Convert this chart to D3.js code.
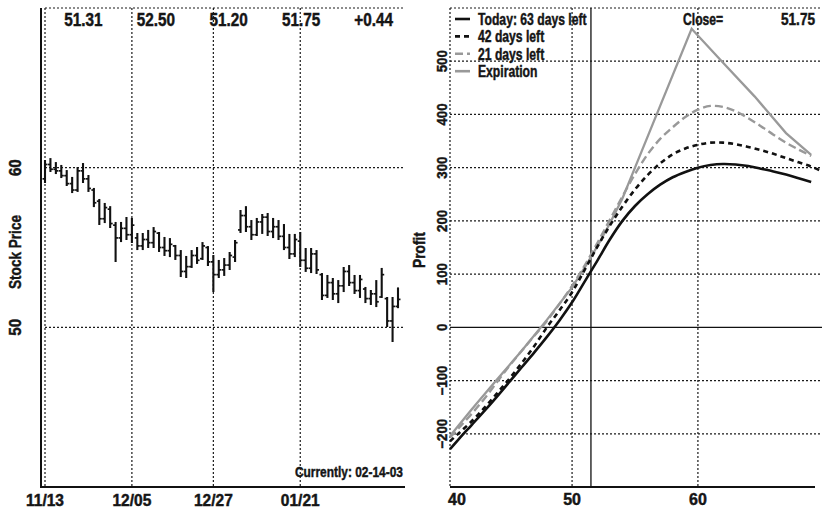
<!DOCTYPE html>
<html><head><meta charset="utf-8">
<script src="https://cdn.jsdelivr.net/npm/d3@7"></script>
<style>
html,body{margin:0;padding:0;background:#fff;}
svg{display:block;}
text{font-family:"Liberation Sans",Arial,Helvetica,sans-serif;font-weight:bold;fill:#151515;stroke:#151515;stroke-width:0.45px;}
</style></head><body>
<svg id="chart" width="823" height="510"></svg>
<script>
// ---------- Left panel data (daily bars, trading-day index) ----------
const dateTicks = ["11/13","12/05","12/27","01/21"];
const dateTickIndex = [0,16,31,47];
const highs = [60.48,60.60,60.35,60.17,59.85,59.42,60.04,60.29,59.54,58.73,58.04,57.79,57.59,56.60,56.60,56.91,56.85,55.91,55.91,56.10,56.28,55.97,55.66,55.59,55.16,54.84,54.47,54.84,55.03,55.34,55.09,54.53,54.22,54.34,54.72,55.47,57.35,57.59,56.72,56.85,57.10,57.16,56.85,56.72,56.47,55.85,55.85,55.97,54.97,54.97,54.84,53.40,53.28,53.09,52.96,53.78,53.90,53.28,53.28,52.53,52.34,52.96,53.72,51.90,51.90,52.50];
const lows  = [59.04,59.73,59.60,59.35,58.85,58.41,58.48,59.04,58.48,57.53,56.41,56.53,56.22,54.09,55.34,55.47,55.28,54.84,54.84,54.97,54.97,54.72,54.47,54.40,54.22,53.15,53.09,53.72,53.97,54.22,53.84,52.21,53.09,53.22,53.59,54.09,55.91,55.97,55.47,55.72,55.85,55.72,55.59,55.47,54.84,54.28,54.40,53.78,53.47,53.40,53.34,51.71,51.84,51.71,51.52,52.21,52.59,52.09,51.84,51.52,51.40,51.27,51.84,50.02,49.08,51.20];
const opens = [59.3,60.2,59.9,59.8,59.5,59.0,58.6,59.8,59.3,58.6,57.9,56.8,57.4,56.4,55.6,56.2,55.8,55.6,55.1,55.5,55.3,55.9,55.0,54.8,55.1,54.5,53.5,53.8,54.5,54.3,55.0,54.1,53.3,53.6,53.9,54.4,56.1,57.0,56.3,55.8,56.6,56.9,56.0,56.3,55.7,55.0,54.6,55.4,54.2,53.7,54.6,53.3,52.0,52.8,52.1,52.6,53.5,52.8,52.3,52.4,51.8,52.1,51.9,51.8,50.4,51.31];
const closes = [60.2,59.9,59.8,59.5,59.0,58.6,59.8,59.3,58.7,57.8,56.8,57.5,56.5,55.6,56.2,55.8,56.4,55.1,55.5,55.3,56.0,55.0,54.8,55.2,54.5,53.5,53.8,54.5,54.2,55.1,54.1,53.3,53.6,53.9,54.5,55.3,57.0,56.3,55.8,56.6,56.9,56.0,56.3,55.7,55.0,54.6,55.5,54.2,53.7,54.6,53.6,52.0,52.8,52.1,52.6,53.5,52.8,52.3,53.0,51.8,52.1,51.6,53.3,50.4,51.31,51.75];
const quoteLabels = ["51.31","52.50","51.20","51.75","+0.44"];
const priceTicks = [50,60];
const priceGrid = [50,60,70];
const currentLabel = "Currently: 02-14-03";

// ---------- Right panel data (profit vs underlying price) ----------
const underlying = [40.3,41,42,43,44,45,46,47,48,49,50,51,52,53,54,55,56,57,58,59,60,61,62,63,64,65,66,67,68,69,69.8];
const today  = [-229,-210,-184,-158,-131,-103,-75,-47,-18,13,47,86,125,165,200,228,250,268,282,292,300,305,307,306,303,298,293,287,280,273,null];
const days42 = [-214,-199,-177,-152,-125,-97,-67,-35,0,32,66,108,151,191,227,259,286,308,325,336,343,347,347,344,339,333,326,318,310,302,294];
const days21 = [-207,-189,-163,-135,-104,-73,-44,-16,12,44,78,116,158,202,246,288,325,354,376,395,409,416,414,406,393,378,362,347,334,322,null];
const expPrices = [40.3,42,44,46,48,50,51,52,53,54,55,57,59.5,62,64.5,67,69];
const expProfit = [-204,-155,-99,-44,14,75,112,152,195,242,300,416,561,497,434,365,324];
const profitTicks = [-200,-100,0,100,200,300,400,500];
const strikeTicks = [40,50,60];
const markerPrice = 51.5;
const legendNames = ["Today: 63 days left","42 days left","21 days left","Expiration"];
const closeLabel = "Close=";
const closeValue = "51.75";

const svg = d3.select("#chart");
const TOP = 8, BOT = 487;
const dotted = {stroke:"#1a1a1a","stroke-width":1.2,"stroke-dasharray":"2,2"};
function line(g,x1,y1,x2,y2,st){const l=g.append("line").attr("x1",x1).attr("y1",y1).attr("x2",x2).attr("y2",y2);for(const k in st)l.attr(k,st[k]);return l;}
// condensed bold text: horizontal squeeze sx along the reading direction
function txt(g,x,y,str,size,sx,anchor,rot){
  return g.append("text")
    .attr("transform",`translate(${x},${y})`+(rot?` rotate(${rot})`:"")+` scale(${sx},1)`)
    .attr("text-anchor",anchor||"start").style("font-size",size+"px").text(str);
}

// ================= LEFT PANEL =================
const L = svg.append("g");
const xL = d3.scaleLinear().domain([0, highs.length-1]).range([45, 398]);
const yL = d3.scaleLinear().domain([40,70]).range([BOT, TOP]);
const LR = 405, LL = 41;

priceGrid.forEach(v => line(L, xL(0), yL(v), LR, yL(v), dotted));
dateTickIndex.forEach(i => line(L, xL(i), TOP, xL(i), BOT, dotted));
line(L, LL, TOP, LL, BOT+1, {stroke:"#111","stroke-width":2});
line(L, LL, BOT, LR, BOT, {stroke:"#111","stroke-width":2});

const bars = L.append("g").attr("stroke","#111").attr("stroke-width",2.1);
highs.forEach((h,i) => {
  const x = xL(i);
  line(bars, x, yL(h), x, yL(lows[i]), {});
  line(bars, x-2.5, yL(opens[i]), x, yL(opens[i]), {"stroke-width":1.7});
  line(bars, x, yL(closes[i]), x+2.5, yL(closes[i]), {"stroke-width":1.7});
});

dateTicks.forEach((d,i) => txt(L, xL(dateTickIndex[i]), 506, d, 16, 0.97, "middle"));
priceTicks.forEach(v => txt(L, 21, yL(v), String(v), 16, 0.95, "middle", -90));
txt(L, 21, 252, "Stock Price", 17, 0.8, "middle", -90);
const qx = d3.scaleBand().domain(quoteLabels).range([47,410]);
quoteLabels.forEach(d => txt(L, qx(d)+qx.bandwidth()/2, 26, d, 18, 0.85, "middle"));
txt(L, 403, 477, currentLabel, 15.5, 0.77, "end");

// ================= RIGHT PANEL =================
const R = svg.append("g");
const xR = d3.scaleLinear().domain([40.3, 69.86]).range([450, 822]);
const yR = d3.scaleLinear().domain([-300, 600]).range([BOT, TOP]);
const RL = 450, RR = 822;

line(R, RL, TOP, RR, TOP, dotted);
profitTicks.filter(v=>v!==0).forEach(v => line(R, RL, yR(v), RR, yR(v), dotted));
line(R, RL, TOP, RL, BOT, dotted);
strikeTicks.filter(v=>v>40).forEach(v => line(R, xR(v), TOP, xR(v), BOT, dotted));
line(R, RL, yR(0), RR, yR(0), {stroke:"#111","stroke-width":1.2});
line(R, xR(markerPrice), TOP, xR(markerPrice), BOT, {stroke:"#111","stroke-width":1.3});
line(R, RL, BOT, 815, BOT, {stroke:"#111","stroke-width":2});

const styles = [
  {stroke:"#111", w:2.6, dash:null},
  {stroke:"#111", w:2.6, dash:"5,4"},
  {stroke:"#999", w:2.4, dash:"8,4"},
  {stroke:"#999", w:2.3, dash:null}
];
const curves = R.append("g");
curves.append("path").datum(expPrices.map((u,i)=>[u,expProfit[i]]))
  .attr("d", d3.line().x(d=>xR(d[0])).y(d=>yR(d[1])).curve(d3.curveLinear))
  .attr("fill","none").attr("stroke",styles[3].stroke).attr("stroke-width",styles[3].w).attr("stroke-linejoin","miter");
const lineGen = d3.line().defined(d=>d[1]!==null).x(d=>xR(d[0])).y(d=>yR(d[1])).curve(d3.curveCatmullRom.alpha(0.5));
[days21, days42, today].forEach((s,j) => {
  const k = 2-j;
  curves.append("path").datum(underlying.map((u,i)=>[u,s[i]])).attr("d",lineGen)
   .attr("fill","none").attr("stroke",styles[k].stroke).attr("stroke-width",styles[k].w)
   .attr("stroke-dasharray",styles[k].dash);
});

strikeTicks.forEach(v => {
  const clamped = xR(v) < RL;
  txt(R, clamped ? 448 : xR(v), 505, String(v), 16, 1.0, clamped ? "start" : "middle");
});
const fmt = d3.format("d");
profitTicks.forEach(v => txt(R, 447, yR(v), fmt(v), 14, 0.95, "middle", -90));
txt(R, 425, 250, "Profit", 16, 0.86, "middle", -90);

legendNames.forEach((n,k) => {
  const yb = 25 + k*17.4;
  line(R, 455, yb-6, 470, yb-6, {stroke:styles[k].stroke,"stroke-width":2.6,"stroke-dasharray":styles[k].dash});
  txt(R, 478, yb, n, 16, 0.76, "start");
});
txt(R, 683, 25, closeLabel, 16, 0.76, "start");
txt(R, 815, 25, closeValue, 16, 0.85, "end");
</script>
</body></html>
